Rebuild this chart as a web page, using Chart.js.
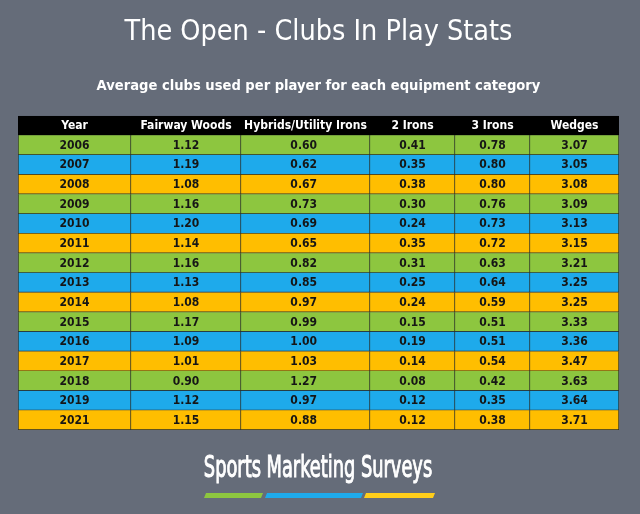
<!DOCTYPE html>
<html>
<head>
<meta charset="utf-8">
<script src="https://cdn.jsdelivr.net/npm/chart.js@4.4.1/dist/chart.umd.min.js"></script>
<style>
    html, body { margin: 0; padding: 0; background: #656c79; }
    #wrap { position: relative; width: 640px; height: 514px; }
</style>
</head>
<body>
<div id="wrap"><canvas id="table_chart"></canvas></div>
<script>
var years = ['2006', '2007', '2008', '2009', '2010', '2011', '2012', '2013', '2014', '2015', '2016', '2017', '2018', '2019', '2021'];
var columns = ['Year', 'Fairway Woods', 'Hybrids/Utility Irons', '2 Irons', '3 Irons', 'Wedges'];
var fairwayWoods = ['1.12', '1.19', '1.08', '1.16', '1.20', '1.14', '1.16', '1.13', '1.08', '1.17', '1.09', '1.01', '0.90', '1.12', '1.15'];
var hybrids = ['0.60', '0.62', '0.67', '0.73', '0.69', '0.65', '0.82', '0.85', '0.97', '0.99', '1.00', '1.03', '1.27', '0.97', '0.88'];
var twoIrons = ['0.41', '0.35', '0.38', '0.30', '0.24', '0.35', '0.31', '0.25', '0.24', '0.15', '0.19', '0.14', '0.08', '0.12', '0.12'];
var threeIrons = ['0.78', '0.80', '0.80', '0.76', '0.73', '0.72', '0.63', '0.64', '0.59', '0.51', '0.51', '0.54', '0.42', '0.35', '0.38'];
var wedges = ['3.07', '3.05', '3.08', '3.09', '3.13', '3.15', '3.21', '3.25', '3.25', '3.33', '3.36', '3.47', '3.63', '3.64', '3.71'];

var rowColors = ['#8dc63f', '#1eaaeb', '#ffbe00'];

// layout of the table (pixel widths of each column)
var colWidths = [113, 110, 129, 85, 75, 89];
var cellFont = 'bold 12px "DejaVu Sans Condensed", "DejaVu Sans", sans-serif';

var cells = [years, fairwayWoods, hybrids, twoIrons, threeIrons, wedges];
var rowLabels = [''].concat(years);

var datasets = [];
for (var c = 0; c < columns.length; c++) {
    var w = [];
    for (var r = 0; r < rowLabels.length; r++) {
        w.push(colWidths[c]);
    }
    datasets.push({
        label: columns[c],
        data: w,
        backgroundColor: function(ctx) {
            return ctx.dataIndex === 0 ? '#000' : rowColors[(ctx.dataIndex - 1) % 3];
        },
        borderColor: function(ctx) {
            return ctx.dataIndex === 0 ? '#000' : '#2b2f2a';
        },
        borderWidth: { top: 0, left: c === 0 ? 1 : 0, right: 1, bottom: 1 },
        borderSkipped: false,
        barPercentage: 1,
        categoryPercentage: 1
    });
}

var cellText = {
    id: 'cellText',
    afterDatasetsDraw: function(chart) {
        var ctx = chart.ctx;
        ctx.save();
        ctx.font = cellFont;
        ctx.textBaseline = 'middle';
        for (var c = 0; c < columns.length; c++) {
            var meta = chart.getDatasetMeta(c);
            for (var r = 0; r < meta.data.length; r++) {
                var bar = meta.data[r];
                var left = Math.min(bar.x, bar.base);
                var right = Math.max(bar.x, bar.base);
                var y = bar.y + 0.5;
                if (r === 0) {
                    ctx.fillStyle = '#fff';
                    ctx.textAlign = 'center';
                    ctx.fillText(columns[c], (left + right) / 2, y);
                } else {
                    ctx.fillStyle = '#161616';
                    if (c === 2) {
                        ctx.textAlign = 'right';
                        ctx.fillText(cells[c][r - 1], left + 76, y);
                    } else {
                        ctx.textAlign = 'center';
                        ctx.fillText(cells[c][r - 1], (left + right) / 2, y);
                    }
                }
            }
        }
        ctx.restore();
    }
};

var logo = {
    id: 'logo',
    afterDraw: function(chart) {
        var ctx = chart.ctx;
        ctx.save();
        ctx.fillStyle = '#fff';
        ctx.strokeStyle = '#fff';
        ctx.lineWidth = 1;
        ctx.font = '30px "DejaVu Sans Condensed", sans-serif';
        ctx.textAlign = 'center';
        ctx.textBaseline = 'alphabetic';
        // squeeze the wordmark horizontally, it is a very narrow face
        ctx.translate(318, 477);
        ctx.scale(0.66, 1);
        ctx.fillText('Sports Marketing Surveys', 0, 0);
        ctx.strokeText('Sports Marketing Surveys', 0, 0);
        ctx.restore();
        ctx.save();
        var stripes = [[204, 263, '#8dc63f'], [265, 363, '#1eaaeb'], [364, 435, '#ffce1a']];
        for (var i = 0; i < stripes.length; i++) {
            ctx.fillStyle = stripes[i][2];
            ctx.beginPath();
            ctx.moveTo(stripes[i][0] + 2, 493);
            ctx.lineTo(stripes[i][1], 493);
            ctx.lineTo(stripes[i][1] - 2, 498);
            ctx.lineTo(stripes[i][0], 498);
            ctx.closePath();
            ctx.fill();
        }
        ctx.restore();
    }
};

var table_chart = new Chart(document.getElementById('table_chart'), {
    type: 'bar',
    data: {
        labels: rowLabels,
        datasets: datasets
    },
    options: {
        indexAxis: 'y',
        responsive: true,
        maintainAspectRatio: false,
        animation: false,
        layout: { padding: { left: 18, right: 21, top: 0, bottom: 84 } },
        scales: {
            x: { stacked: true, display: false, min: 0, max: 601 },
            y: { stacked: true, display: false }
        },
        plugins: {
            legend: { display: false },
            tooltip: { enabled: false },
            title: {
                display: true,
                text: 'The Open - Clubs In Play Stats',
                color: '#fff',
                font: { family: '"DejaVu Sans Condensed", sans-serif', size: 28.5, weight: 'normal', lineHeight: 1.2 },
                padding: { top: 15, bottom: 0 }
            },
            subtitle: {
                display: true,
                text: 'Average clubs used per player for each equipment category',
                color: '#fff',
                font: { family: '"DejaVu Sans Condensed", sans-serif', size: 14.6, weight: 'bold', lineHeight: 1.2 },
                padding: { top: 28, bottom: 21 }
            }
        }
    },
    plugins: [cellText, logo]
});
</script>
</body>
</html>
